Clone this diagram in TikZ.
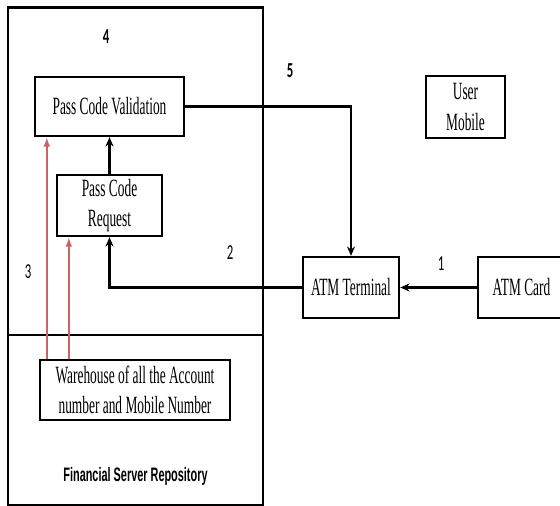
\documentclass[tikz,border=0pt]{standalone}
\usepackage{fontspec}
\usepackage{tikz}
\usetikzlibrary{arrows.meta,positioning}
\newfontfamily\boxfont{Liberation Serif}[FakeStretch=0.54]
\newfontfamily\repofont{Liberation Sans}[FakeStretch=0.56]
\newfontfamily\numfont{Carlito}[FakeStretch=0.6]
\definecolor{linkred}{RGB}{205,100,100}
\tikzset{
  block/.style={draw,line width=1.8pt,align=center,inner sep=0pt,fill=white,
                font=\boxfont\fontsize{18.6pt}{23pt}\selectfont},
  srv/.style  ={draw,line width=1.1pt},
  num/.style  ={font=\numfont\fontsize{16pt}{18pt}\selectfont,inner sep=0pt},
  flow/.style ={-{Stealth[length=7pt,width=6pt]},line width=1.7pt},
  rflow/.style={-{Latex[length=7pt,width=5pt]},line width=1.2pt,linkred},
}
\begin{document}
\begin{tikzpicture}[x=0.75pt,y=-0.75pt]
\useasboundingbox (0,0) rectangle (560,506);
% server repository
\node[srv,minimum width=191.25pt,minimum height=372.75pt] (server) at (135.5,256.5) {};
\draw[line width=2.2pt] (server.north west) -- (server.north east);
\coordinate (cutl) at (8,335);
\coordinate (cutr) at (263,335);
\draw[srv] (cutl) -- (cutr);
\node[font=\repofont\bfseries\fontsize{14.6pt}{16pt}\selectfont] (repo) at (135.5,476) {Financial Server Repository};
% boxes
\node[block,minimum width=111.75pt,minimum height=44.25pt] (pcv) at (109.5,106.5) {Pass Code Validation};
\node[block,minimum width=78.75pt,minimum height=45.75pt] (pcr) at (109.5,205.5) {Pass Code\\Request};
\node[block,minimum width=142.5pt,minimum height=45pt] (wh) at (135,390) {Warehouse of all the Account\\number and Mobile Number};
\node[block,minimum width=72pt,minimum height=45.75pt] (term) at (351,287.5) {ATM Terminal};
\node[block,minimum width=65.25pt,minimum height=45.75pt] (card) at (521.5,287.5) {ATM Card};
\node[block,minimum width=59.25pt,minimum height=46.5pt] (mob) at (465.5,107) {User\\Mobile};
% connectors
\draw[flow] (card) -- (term);
\draw[flow] (term.west) -| (pcr.south);
\draw[flow] (pcr) -- (pcv);
\draw[flow] (pcv.east) -| (term.north);
\draw[rflow] ([xshift=6pt]wh.north west) -- ([xshift=6pt]wh.north west |- pcv.south);
\draw[rflow] ([xshift=22.5pt]wh.north west) -- ([xshift=22.5pt]wh.north west |- pcr.south);
% step numbers
\node[num,font=\numfont\bfseries\fontsize{16pt}{18pt}\selectfont] (n4) at (106,37) {4};
\node[num,font=\numfont\bfseries\fontsize{16pt}{18pt}\selectfont] (n5) at (290,71) {5};
\node[num] (n1) at (441,264) {1};
\node[num] (n2) at (230,253) {2};
\node[num] (n3) at (28,272) {3};
\end{tikzpicture}
\end{document}
